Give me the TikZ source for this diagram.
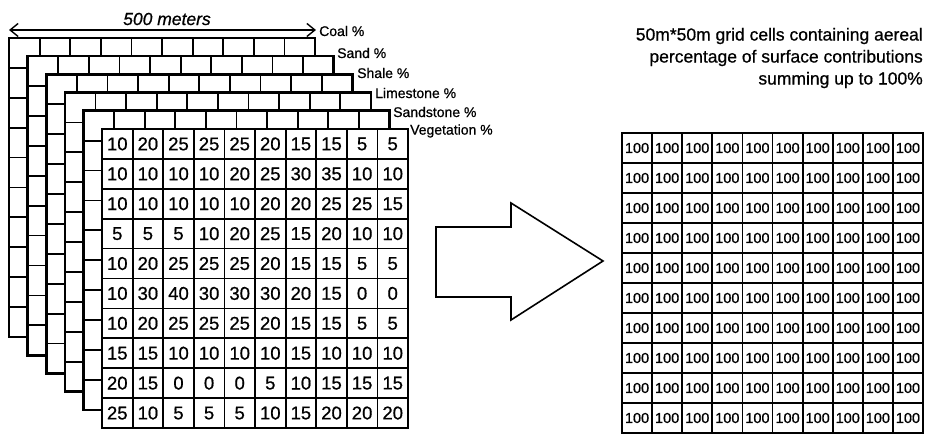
\documentclass[tikz,border=0pt]{standalone}
\usepackage{fontspec}
\setmainfont[FakeBold=0.7]{Liberation Sans}
\usetikzlibrary{arrows.meta}
\begin{document}
\begin{tikzpicture}[x=1pt,y=-1pt,
  gridline/.style={line width=1.8pt},
  gridframe/.style={line width=2.6pt},
  lbl/.style={anchor=west,inner sep=0pt,font=\fontsize{14}{14}\selectfont},
  num/.style={inner sep=0pt,font=\fontsize{18.5}{18.5}\selectfont},
  hnum/.style={inner sep=0pt,font=\fontsize{14.5}{14.5}\selectfont},
  blockarrow/.style={line width=1.6pt,line join=miter}]
\fill[white] (0,0) rectangle (925,435);
\useasboundingbox (0,0) rectangle (925,435);

% stacked layers (back to front)
\foreach \i/\name/\lx/\ly in {0/Coal/319/31,1/Sand/337/53,2/Shale/357/73,3/Limestone/375/93,4/Sandstone/393/112,5/Vegetation/410/131}{
  \pgfmathsetmacro\ox{9+18.6*\i}
  \pgfmathsetmacro\oy{38+18.2*\i}
  \fill[white] (\ox,\oy) rectangle ++(306,299);
  \foreach \k in {1,...,9}{
    \draw[gridline] ({\ox+30.6*\k},\oy) -- ++(0,299);
    \draw[gridline] (\ox,{\oy+29.9*\k}) -- ++(306,0);
  }
  \draw[gridframe] (\ox,\oy) rectangle ++(306,299);
  \node[lbl] (lab\i) at (\lx,\ly) {\name\ \%};
}

% width arrow
\coordinate (arL) at (9,30);
\coordinate (arR) at (316,30);
\draw[line width=1.4pt,{Straight Barb[length=8pt,width=13pt]}-{Straight Barb[length=8pt,width=13pt]}] (arL) -- (arR);
\node[inner sep=0pt,font=\fontsize{17.5}{17.5}\selectfont\itshape] (width) at (167,19) {500 meters};

% front grid values
\foreach [count=\r] \row in {
  {10,20,25,25,25,20,15,15,5,5},
  {10,10,10,10,20,25,30,35,10,10},
  {10,10,10,10,10,20,20,25,25,15},
  {5,5,5,10,20,25,15,20,10,10},
  {10,20,25,25,25,20,15,15,5,5},
  {10,30,40,30,30,30,20,15,0,0},
  {10,20,25,25,25,20,15,15,5,5},
  {15,15,10,10,10,10,15,10,10,10},
  {20,15,0,0,0,5,10,15,15,15},
  {25,10,5,5,5,10,15,20,20,20}}{
  \foreach [count=\c] \v in \row {
    \node[num] (n-\r-\c) at ({102+30.6*(\c-0.5)},{129+29.9*(\r-0.5)}) {\v};
  }
}

% block arrow
\draw[blockarrow] (436,227) -- (511,227) -- (511,203) -- (603,261) -- (511,320) -- (511,297) -- (436,297) -- cycle;

% title on the right
\node[anchor=east,align=right,inner sep=0pt,font=\fontsize{17.5}{22}\selectfont] (title) at (923,58)
  {50m*50m grid cells containing aereal\\percentage of surface contributions\\summing up to 100\%};

% result grid
\fill[white] (622,133) rectangle (923,433);
\foreach \k in {1,...,9}{
  \draw[gridline] ({622+30.1*\k},133) -- ++(0,300);
  \draw[gridline] (622,{133+30*\k}) -- ++(301,0);
}
\draw[gridframe] (622,133) rectangle (923,433);
\foreach \r in {1,...,10}{
  \foreach \c in {1,...,10}{
    \node[hnum] (h-\r-\c) at ({622+30.1*(\c-0.5)},{133+30*(\r-0.5)}) {100};
  }
}
\end{tikzpicture}
\end{document}
